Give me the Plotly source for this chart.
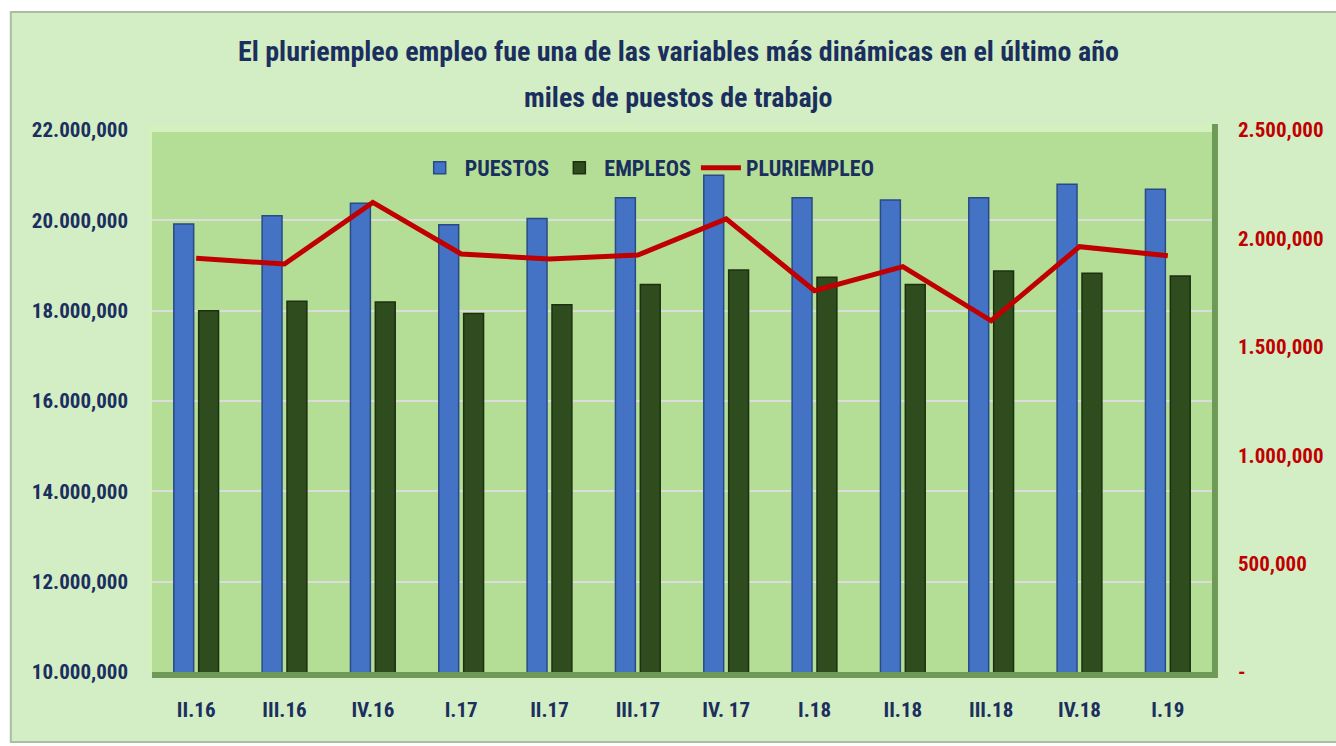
import plotly.graph_objects as go

categories = ["II.16", "III.16", "IV.16", "I.17", "II.17", "III.17",
              "IV. 17", "I.18", "II.18", "III.18", "IV.18", "I.19"]
puestos = [19920000, 20100000, 20380000, 19900000, 20040000, 20500000,
           21000000, 20500000, 20450000, 20500000, 20800000, 20690000]
empleos = [18000000, 18210000, 18190000, 17940000, 18130000, 18580000,
           18900000, 18740000, 18580000, 18880000, 18830000, 18770000]
pluriempleo = [1908000, 1882000, 2166000, 1928000, 1905000, 1923000,
               2090000, 1759000, 1870000, 1620000, 1962000, 1920000]

left_ticks = [10000000, 12000000, 14000000, 16000000, 18000000, 20000000, 22000000]
left_labels = ["10.000,000", "12.000,000", "14.000,000", "16.000,000",
               "18.000,000", "20.000,000", "22.000,000"]
right_ticks = [0, 500000, 1000000, 1500000, 2000000, 2500000]
right_labels = ["-", "500,000", "1.000,000", "1.500,000", "2.000,000", "2.500,000"]

title1 = "El pluriempleo empleo fue una de las variables más dinámicas en el último año"
title2 = "miles de puestos de trabajo"

FONT = "Liberation Sans Narrow, Arial Narrow, Roboto Condensed, Liberation Sans, sans-serif"
NAVY = "#1B2F5E"
RED = "#C00000"

W, H = 1336, 746
PL, PR, PT, PB = 152, 1218, 130, 672  # plot area in page pixels


def px(x):
    return (x - PL) / (PR - PL)


def py(y):
    return (PB - y) / (PB - PT)


fig = go.Figure()
fig.add_trace(go.Bar(
    x=categories, y=puestos, name="PUESTOS",
    marker=dict(color="#4472C4", line=dict(color="#2A4A86", width=1.5)),
))
fig.add_trace(go.Bar(
    x=categories, y=empleos, name="EMPLEOS",
    marker=dict(color="#2F4C1F", line=dict(color="#1C3010", width=1.5)),
))
fig.add_trace(go.Scatter(
    x=categories, y=pluriempleo, name="PLURIEMPLEO", yaxis="y2",
    mode="lines", line=dict(color=RED, width=5),
))

shapes = [
    # outer frame
    dict(type="rect", xref="paper", yref="paper", x0=px(10), x1=px(1345), y0=py(742), y1=py(12),
         fillcolor="#D3EDC5", line=dict(color="#A9BFA0", width=2), layer="below"),
    # plot area bevel shadows
    dict(type="rect", xref="paper", yref="paper", x0=px(152), x1=px(1224), y0=py(678), y1=py(124),
         fillcolor="#6E9A57", line=dict(width=0), layer="below"),
    dict(type="rect", xref="paper", yref="paper", x0=px(148), x1=px(1218), y0=py(672), y1=py(124),
         fillcolor="#D4F0BE", line=dict(width=0), layer="below"),
    # plot area
    dict(type="rect", xref="paper", yref="paper", x0=px(152), x1=px(1218), y0=py(672), y1=py(132),
         fillcolor="#B4DE96", line=dict(width=0), layer="below"),
]

annotations = [
    dict(text=title1, x=px(681), y=py(52), xref="paper", yref="paper",
         xanchor="center", yanchor="middle", showarrow=False,
         font=dict(family=FONT, size=28, color=NAVY, weight="bold")),
    dict(text=title2, x=px(681), y=py(97), xref="paper", yref="paper",
         xanchor="center", yanchor="middle", showarrow=False,
         font=dict(family=FONT, size=28, color=NAVY, weight="bold")),
]

fig.update_layout(
    width=W, height=H,
    margin=dict(l=PL, r=W - PR, t=PT, b=H - PB, pad=0),
    paper_bgcolor="white",
    plot_bgcolor="rgba(0,0,0,0)",
    barmode="group", bargap=0.437, bargroupgap=0.2,
    shapes=shapes, annotations=annotations,
    showlegend=True,
    legend=dict(orientation="h", x=px(650), xanchor="center", y=py(168), yanchor="middle",
                bgcolor="rgba(0,0,0,0)", font=dict(family=FONT, size=22, color=NAVY, weight="bold"),
                itemwidth=40, traceorder="normal"),
    xaxis=dict(showgrid=False, zeroline=False, showline=False, ticks="",
               tickfont=dict(family=FONT, size=21, color=NAVY, weight="bold"),
               ticklabelstandoff=23),
    yaxis=dict(range=[10000000, 22000000], tickvals=left_ticks, ticktext=left_labels,
               showgrid=True, gridcolor="#DCDCDC", gridwidth=2, zeroline=False, showline=False,
               tickfont=dict(family=FONT, size=21, color=NAVY, weight="bold"),
               ticklabelstandoff=23),
    yaxis2=dict(range=[0, 2500000], tickvals=right_ticks, ticktext=right_labels,
                overlaying="y", side="right", showgrid=False, zeroline=False, showline=False,
                tickfont=dict(family=FONT, size=21, color=RED, weight="bold"),
                ticklabelstandoff=25),
)

fig.write_html(
    "out.html",
    config={"displayModeBar": False},
    post_script=("document.body.style.margin='0px';"
                 "document.body.style.overflow='hidden';"
                 "document.documentElement.style.overflow='hidden';"),
)
